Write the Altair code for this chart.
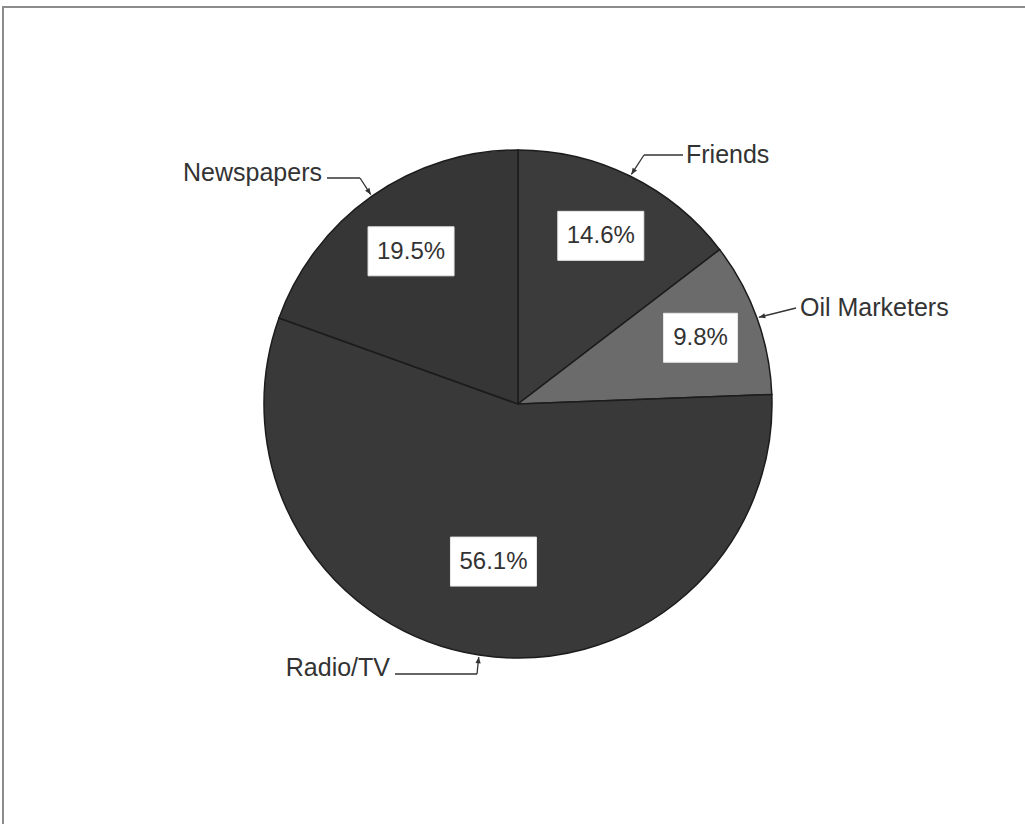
import altair as alt
import pandas as pd

# ---- data ----
categories = ["Friends", "Oil Marketers", "Radio/TV", "Newspapers"]
shares = [14.6, 9.8, 56.1, 19.5]
pct_labels = ["14.6%", "9.8%", "56.1%", "19.5%"]
slice_colors = ["#3b3b3b", "#6b6b6b", "#393939", "#363636"]

# ---- layout (pixels) ----
W, H = 1025, 824
CX, CY, R = 518, 404, 254
LABEL_RADIUS = {"Friends": 187, "Oil Marketers": 194, "Radio/TV": 160, "Newspapers": 186}

# leader-line / category-label layout
lead_cat = ["Friends", "Oil Marketers", "Radio/TV", "Newspapers"]
lead_tx = [683, 796, 395, 327]
lead_ty = [155, 308, 674, 178]
lead_ex = [644, 796, 477, 360]
lead_ey = [155, 308, 674, 178]
lead_lx = [686, 800, 390, 322]
lead_ly = [155, 308, 668, 173]
lead_side = ["left", "left", "right", "right"]

df = pd.DataFrame({"category": categories, "share": shares,
                   "label": pct_labels, "idx": list(range(len(categories)))})
layout_df = pd.DataFrame({"category": lead_cat, "tx": lead_tx, "ty": lead_ty,
                          "ex": lead_ex, "ey": lead_ey, "lx": lead_lx,
                          "ly": lead_ly, "side": lead_side})

FONT = "Liberation Sans"
TXT = "#333333"

lr_expr = " : ".join(
    [f"datum.category == '{k}' ? {v}" for k, v in LABEL_RADIUS.items()]) + " : 185"


def base():
    return (alt.Chart(df)
            .transform_window(cum="sum(share)", sort=[alt.SortField("idx")], frame=[None, 0])
            .transform_joinaggregate(total="sum(share)")
            .transform_calculate(mid="(datum.cum - datum.share/2) / datum.total * 2 * PI"))


frame = alt.Chart(df).mark_rect(fillOpacity=0, stroke="#8c8c8c", strokeWidth=2).encode(
    x=alt.value(3), x2=alt.value(W + 20), y=alt.value(7), y2=alt.value(H + 20))

pie = alt.Chart(df).mark_arc(radius=R, stroke="#1c1c1c", strokeWidth=1.5).encode(
    theta=alt.Theta("share:Q", stack=True),
    order=alt.Order("idx:Q"),
    color=alt.Color("category:N", scale=alt.Scale(domain=categories, range=slice_colors), legend=None),
    x=alt.value(CX), y=alt.value(CY))

lab = (base()
       .transform_calculate(lr=lr_expr)
       .transform_calculate(bx=f"{CX} + datum.lr * sin(datum.mid)",
                            by=f"{CY} - datum.lr * cos(datum.mid)",
                            w="12 * length(datum.label) + 26")
       .transform_calculate(x1="datum.bx - datum.w/2", x2="datum.bx + datum.w/2",
                            y1="datum.by - 25", y2="datum.by + 24"))

boxes = lab.mark_rect(fill="white", stroke="#e6e6e6", strokeWidth=1).encode(
    x=alt.X("x1:Q", scale=None), x2="x2:Q",
    y=alt.Y("y1:Q", scale=None), y2="y2:Q")

pct = lab.mark_text(fontSize=24, font=FONT, color=TXT, align="center", baseline="middle").encode(
    x=alt.X("bx:Q", scale=None), y=alt.Y("by:Q", scale=None), text="label:N")

lead = (base()
        .transform_lookup(lookup="category",
                          from_=alt.LookupData(layout_df, "category",
                                               ["tx", "ty", "ex", "ey", "lx", "ly", "side"]))
        .transform_calculate(ax=f"{CX} + {R + 2} * sin(datum.mid)",
                             ay=f"{CY} - {R + 2} * cos(datum.mid)")
        .transform_calculate(ang="(atan2(datum.ax - datum.ex, -(datum.ay - datum.ey)) * 180 / PI + 360) % 360"))

seg1 = lead.mark_rule(color="#333", strokeWidth=1.3).encode(
    x=alt.X("tx:Q", scale=None), y=alt.Y("ty:Q", scale=None), x2="ex:Q", y2="ey:Q")
seg2 = lead.mark_rule(color="#333", strokeWidth=1.3).encode(
    x=alt.X("ex:Q", scale=None), y=alt.Y("ey:Q", scale=None), x2="ax:Q", y2="ay:Q")
arrows = lead.mark_point(shape="M0,0L-0.75,1.8L0.75,1.8Z", filled=True, size=50,
                         color="#333", opacity=1).encode(
    x=alt.X("ax:Q", scale=None), y=alt.Y("ay:Q", scale=None),
    angle=alt.Angle("ang:Q", scale=None))

cat_left = lead.transform_filter("datum.side == 'left'").mark_text(
    fontSize=25, font=FONT, color=TXT, align="left", baseline="middle").encode(
    x=alt.X("lx:Q", scale=None), y=alt.Y("ly:Q", scale=None), text="category:N")
cat_right = lead.transform_filter("datum.side == 'right'").mark_text(
    fontSize=25, font=FONT, color=TXT, align="right", baseline="middle").encode(
    x=alt.X("lx:Q", scale=None), y=alt.Y("ly:Q", scale=None), text="category:N")

chart = alt.layer(frame, pie, boxes, pct, seg1, seg2, arrows, cat_left, cat_right).properties(
    width=W, height=H, autosize=alt.AutoSizeParams(type="none"), padding=0,
    background="white"
).configure_view(stroke=None)

chart.save("out.html", embed_options={"renderer": "svg", "actions": False})
